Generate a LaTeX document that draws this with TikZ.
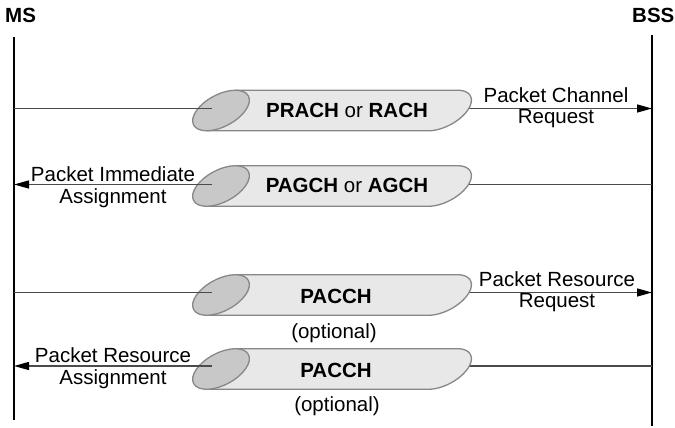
\documentclass[tikz,border=0pt]{standalone}
\usepackage{fontspec}
\setmainfont{Liberation Sans}
\usetikzlibrary{arrows.meta}
\definecolor{bodyfill}{RGB}{232,232,232}
\definecolor{endfill}{RGB}{200,200,200}
\definecolor{tubeline}{RGB}{135,135,135}
\definecolor{msgline}{RGB}{75,75,75}
\newcommand\mytube[3]{% name, cx, cy
  \pgfmathsetmacro\tcx{#2}\pgfmathsetmacro\tcy{#3}
  \fill[bodyfill] (\tcx-14.4,\tcy-20.3) -- (\tcx+222-14.4,\tcy-20.3)
    -- plot[domain=224.2:404.2,samples=60] ({\tcx+222+31*cos(\x)*cos(28)-16*sin(\x)*sin(28)},{\tcy+31*cos(\x)*sin(28)+16*sin(\x)*cos(28)})
    -- (\tcx+14.4,\tcy+20.3) -- cycle;
  \draw[tubeout] (\tcx-14.4,\tcy-20.3) -- (\tcx+222-14.4,\tcy-20.3)
    -- plot[domain=224.2:404.2,samples=60] ({\tcx+222+31*cos(\x)*cos(28)-16*sin(\x)*sin(28)},{\tcy+31*cos(\x)*sin(28)+16*sin(\x)*cos(28)})
    -- (\tcx+14.4,\tcy+20.3);
  \filldraw[tubeout,fill=endfill,rotate around={28:(\tcx,\tcy)}] (\tcx,\tcy) ellipse [x radius=31, y radius=16];
  \coordinate (#1c) at (\tcx,\tcy);
}
\begin{document}
\begin{tikzpicture}[x=1pt,y=1pt,
  font=\fontsize{20.5}{24}\selectfont,
  life/.style={line width=2.4pt,black},
  msg/.style={line width=1.4pt,msgline},
  tip/.style={-{Triangle[length=15pt,width=8pt,color=black]}},
  tubeout/.style={draw=tubeline,line width=1.3pt},
  lab/.style={anchor=base,inner sep=0pt},
  tlab/.style={anchor=base,inner sep=0pt,font=\fontsize{20.5}{24}\selectfont}]
\useasboundingbox (0,0) rectangle (675,428);
% lifelines
\coordinate (msT) at (14,391); \coordinate (msB) at (14,8);
\coordinate (bsT) at (652,393); \coordinate (bsB) at (652,2);
\draw[life] (msT) -- (msB);
\draw[life] (bsT) -- (bsB);
\node[anchor=base west,inner sep=0pt,font=\fontsize{20.5}{24}\selectfont\bfseries] (ms) at (5,405) {MS};
\node[anchor=base west,inner sep=0pt,font=\fontsize{20.5}{24}\selectfont\bfseries] (bss) at (632,405) {BSS};
% message coordinates
\coordinate (m1a) at (14,319.5);  \coordinate (m1b) at (212,319.5);
\coordinate (m1c) at (465,319.5); \coordinate (m1d) at (652,319.5);
\coordinate (m2a) at (14,243.5);  \coordinate (m2b) at (212,243.5);
\coordinate (m2c) at (465,243.5); \coordinate (m2d) at (652,243.5);
\coordinate (m3a) at (14,135.5);  \coordinate (m3b) at (212,135.5);
\coordinate (m3c) at (465,135.5); \coordinate (m3d) at (652,135.5);
\coordinate (m4a) at (14,62);     \coordinate (m4b) at (212,62);
\coordinate (m4c) at (465,62);    \coordinate (m4d) at (652,62);
% right-hand segments (under tubes)
\draw[msg,tip] (m1c) -- (m1d);
\draw[msg] (m2d) -- (m2c);
\draw[msg,tip] (m3c) -- (m3d);
\draw[msg] (m4d) -- (m4c);
% tubes
\mytube{t1}{221}{317.5}
\mytube{t2}{221}{242}
\mytube{t3}{221}{133}
\mytube{t4}{221}{59}
% left-hand segments (over tubes)
\draw[msg] (m1b) -- (m1a);
\draw[msg,tip] (m2b) -- (m2a);
\draw[msg] (m3b) -- (m3a);
\draw[msg,tip] (m4b) -- (m4a);
% tube labels
\node[tlab] (t1l) at (347,310.7) {\textbf{PRACH} or \textbf{RACH}};
\node[tlab] (t2l) at (347,235.7) {\textbf{PAGCH} or \textbf{AGCH}};
\node[tlab] (t3l) at (336,124.2) {\textbf{PACCH}};
\node[tlab] (t3o) at (334,89.7) {(optional)};
\node[tlab] (t4l) at (336,50.2) {\textbf{PACCH}};
\node[tlab] (t4o) at (337,16.3) {(optional)};
% message labels
\node[lab] (l1a) at (556,325) {Packet Channel};
\node[lab] (l1b) at (556,304) {Request};
\node[lab] (l2a) at (113,246.5) {Packet Immediate};
\node[lab] (l2b) at (113,224.5) {Assignment};
\node[lab] (l3a) at (557,141) {Packet Resource};
\node[lab] (l3b) at (557,120) {Request};
\node[lab] (l4a) at (113,65) {Packet Resource};
\node[lab] (l4b) at (113,43) {Assignment};
\end{tikzpicture}
\end{document}
